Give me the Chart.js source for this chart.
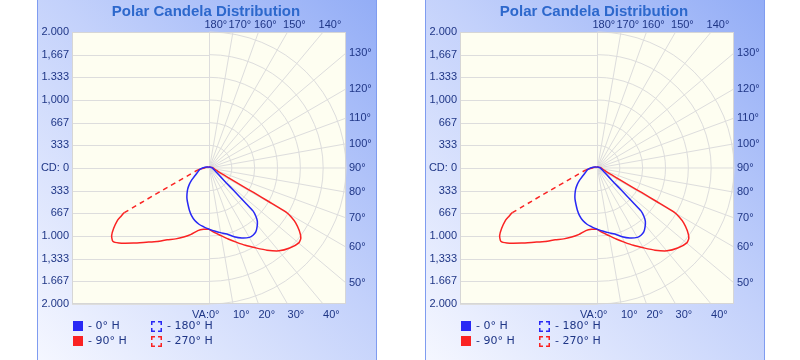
<!DOCTYPE html>
<html>
<head>
<meta charset="utf-8">
<script src="https://cdn.jsdelivr.net/npm/chart.js@4.4.0/dist/chart.umd.min.js"></script>
<style>
  body { margin: 0; width: 800px; height: 360px; overflow: hidden; background: #fff; }
  .painel {
    position: absolute; top: -1px; width: 338px; height: 362px;
    border: 1px solid #7f9cf0;
    background: linear-gradient(225deg, #93adf6 0%, #c3d1fb 45%, #f5f7ff 100%);
  }
  .painel canvas { position: absolute; left: 0; top: 1px; }
  .caixa { position: absolute; width: 10px; height: 10px; }
  .leg { position: absolute; font: 11px "DejaVu Sans", sans-serif; color: #1f3686; line-height: 13px; white-space: nowrap; }
</style>
</head>
<body>
<script>
// rotulos e grade
const titulo = 'Polar Candela Distribution';
const cdValores = [2000, 1666.7, 1333.3, 1000, 666.7, 333.3, 0, -333.3, -666.7, -1000, -1333.3, -1666.7, -2000];
const cdRotulos = ['2.000', '1,667', '1.333', '1,000', '667', '333', 'CD: 0', '333', '667', '1.000', '1,333', '1.667', '2.000'];
const raiosGrade = [333.3, 666.7, 1000, 1333.3, 1666.7, 2000];
const angulosGrade = [10, 20, 30, 40, 50, 60, 70, 80, 90, 100, 110, 120, 130, 140, 150, 160, 170];
const angulosTopo = [180, 170, 160, 150, 140];
const angulosDireita = [130, 120, 110, 100, 90, 80, 70, 60, 50];
const angulosBase = [0, 10, 20, 30, 40];

// 0° H (azul, lado direito)
const va0H = [0, 5, 10, 15, 20, 25, 30, 33, 36, 39, 42, 44, 45.5, 46, 46.5, 47.5, 49, 52, 58, 70, 80, 90, 100, 120, 150, 180];
const cd0H = [900, 930, 965, 1005, 1075, 1135, 1178, 1180, 1162, 1115, 1055, 985, 900, 760, 640, 480, 340, 230, 140, 80, 60, 50, 40, 25, 15, 10];

// 180° H (azul, lado esquerdo)
const va180H = [0, 5, 10, 15, 20, 25, 30, 35, 40, 45, 50, 55, 60, 70, 80, 90, 100, 120, 150, 180];
const cd180H = [900, 868, 840, 800, 745, 680, 615, 560, 500, 440, 375, 310, 245, 175, 140, 95, 60, 30, 15, 10];

// 90° H (vermelho, lado direito)
const va90H = [0, 5, 10, 15, 20, 25, 30, 35, 40, 45, 50, 52.5, 55, 57.5, 59, 60, 60.5, 61, 61.5, 63, 66, 75, 90, 100, 120, 150, 180];
const cd90H = [900, 955, 1010, 1080, 1160, 1255, 1355, 1475, 1590, 1665, 1712, 1690, 1610, 1500, 1400, 1300, 1000, 750, 550, 350, 180, 100, 60, 45, 25, 15, 10];

// 270° H (vermelho, lado esquerdo)
const va270H = [0, 5, 10, 15, 20, 25, 30, 35, 40, 45, 50, 52.5, 55, 57.5, 60, 61, 62, 80, 90, 100, 120, 150, 180];
const cd270H = [900, 905, 935, 1010, 1080, 1150, 1220, 1320, 1425, 1560, 1715, 1770, 1735, 1650, 1545, 1475, 1400, 165, 70, 50, 30, 15, 10];

const azul = 'rgb(40, 40, 245)';
const vermelho = 'rgb(250, 35, 35)';
const corTexto = '#1f3686';

// converte (angulo vertical, candela) para x/y; lado = 1 direita, -1 esquerda
function paraPontos(angulos, valores, lado) {
  return angulos.map((va, i) => {
    const rad = va * Math.PI / 180;
    return { x: lado * valores[i] * Math.sin(rad), y: -valores[i] * Math.cos(rad) };
  });
}

// trecho longo fica tracejado, trechos curtos parecem continuos
const tracoLongo = ctx => {
  const dist = Math.hypot(ctx.p1.x - ctx.p0.x, ctx.p1.y - ctx.p0.y);
  return dist > 30 ? [5, 4] : undefined;
};

// ponto onde a linha radial encontra a borda do grafico
function fimRadial(chart, va) {
  const a = chart.chartArea;
  const cx = chart.scales.x.getPixelForValue(0);
  const cy = chart.scales.y.getPixelForValue(0);
  const s = Math.sin(va * Math.PI / 180);
  const c = Math.cos(va * Math.PI / 180);
  let t = s > 0.0001 ? (a.right - cx) / s : Infinity;
  if (c > 0.0001) t = Math.min(t, (a.bottom - cy) / c);
  if (c < -0.0001) t = Math.min(t, (a.top - cy) / c);
  return { x: cx + t * s, y: cy + t * c };
}

// fundo e grade polar
const gradePolar = {
  id: 'gradePolar',
  beforeDatasetsDraw(chart) {
    const { ctx, chartArea: a, scales: { x, y } } = chart;
    const cx = Math.round(x.getPixelForValue(0)) + 0.5;
    const cy = y.getPixelForValue(0);
    ctx.save();
    ctx.fillStyle = '#fefef1';
    ctx.fillRect(a.left, a.top, a.width, a.height);
    ctx.strokeStyle = '#dddddd';
    ctx.lineWidth = 1;

    ctx.beginPath();
    cdValores.forEach(v => {
      const py = Math.round(y.getPixelForValue(v)) + 0.5;
      ctx.moveTo(a.left, py);
      ctx.lineTo(cx, py);
    });
    ctx.moveTo(cx, a.top);
    ctx.lineTo(cx, a.bottom);
    ctx.stroke();

    raiosGrade.forEach(r => {
      const rx = x.getPixelForValue(r) - cx;
      const ry = cy - y.getPixelForValue(r);
      ctx.beginPath();
      ctx.ellipse(cx, cy, rx, ry, 0, -Math.PI / 2, Math.PI / 2);
      ctx.stroke();
    });

    angulosGrade.forEach(va => {
      const p = fimRadial(chart, va);
      ctx.beginPath();
      ctx.moveTo(cx, cy);
      ctx.lineTo(p.x, p.y);
      ctx.stroke();
    });

    ctx.strokeStyle = '#d6d6d6';
    ctx.strokeRect(a.left + 0.5, a.top + 0.5, a.width - 1, a.height - 1);
    ctx.restore();
  }
};

// titulo e rotulos dos eixos
const rotulosPolar = {
  id: 'rotulosPolar',
  afterDraw(chart) {
    const { ctx, chartArea: a, scales: { x, y } } = chart;
    const cx = x.getPixelForValue(0);
    ctx.save();
    ctx.font = 'bold 15px "Liberation Sans", Arial, sans-serif';
    ctx.fillStyle = '#2d68cc';
    ctx.textAlign = 'center';
    ctx.textBaseline = 'middle';
    ctx.fillText(titulo, 168, 11);

    ctx.font = '11px "Liberation Sans", Arial, sans-serif';
    ctx.fillStyle = corTexto;
    ctx.textAlign = 'right';
    cdValores.forEach((v, i) => {
      ctx.fillText(cdRotulos[i], a.left - 3, y.getPixelForValue(v));
    });

    ctx.textAlign = 'left';
    angulosTopo.forEach(va => {
      const p = fimRadial(chart, va);
      ctx.fillText(va + '°', p.x - 4.5, a.top - 7);
    });
    angulosDireita.forEach(va => {
      const p = fimRadial(chart, va);
      ctx.fillText(va + '°', a.right + 3, p.y);
    });
    angulosBase.forEach(va => {
      const p = fimRadial(chart, va);
      ctx.fillText(va + '°', p.x, a.bottom + 11);
    });
    ctx.textAlign = 'right';
    ctx.fillText('VA:', cx, a.bottom + 11);
    ctx.restore();
  }
};

// caixinha tracejada da legenda (cantos em L)
function caixaTracejada(left, top, cor) {
  return '<svg class="caixa" style="left:' + left + 'px;top:' + top + 'px;width:11px;height:11px" viewBox="0 0 11 11">' +
    '<path d="M0.75 4V0.75H4 M7 0.75H10.25V4 M10.25 7V10.25H7 M4 10.25H0.75V7" fill="none" stroke="' + cor + '" stroke-width="1.5"/></svg>';
}

function renderPainel(left) {
  const painel = document.createElement('div');
  painel.className = 'painel';
  painel.style.left = left + 'px';
  painel.innerHTML =
    '<canvas width="338" height="360"></canvas>' +
    '<div class="caixa" style="left:35px;top:321px;background:' + azul + '"></div>' +
    '<div class="leg" style="left:50px;top:319px">- 0° H</div>' +
    '<div class="caixa" style="left:35px;top:336px;background:' + vermelho + '"></div>' +
    '<div class="leg" style="left:50px;top:334px">- 90° H</div>' +
    caixaTracejada(113, 321, azul) +
    '<div class="leg" style="left:129px;top:319px">- 180° H</div>' +
    caixaTracejada(113, 336, vermelho) +
    '<div class="leg" style="left:129px;top:334px">- 270° H</div>';
  document.body.appendChild(painel);

  const ctx = painel.querySelector('canvas').getContext('2d');
  new Chart(ctx, {
    type: 'scatter',
    data: {
      datasets: [
        { label: '0° H', data: paraPontos(va0H, cd0H, 1), borderColor: azul },
        { label: '180° H', data: paraPontos(va180H, cd180H, -1), borderColor: azul, segment: { borderDash: tracoLongo } },
        { label: '90° H', data: paraPontos(va90H, cd90H, 1), borderColor: vermelho },
        { label: '270° H', data: paraPontos(va270H, cd270H, -1), borderColor: vermelho, segment: { borderDash: tracoLongo } }
      ]
    },
    options: {
      responsive: false,
      animation: false,
      devicePixelRatio: 1,
      showLine: true,
      datasets: { scatter: { showLine: true, pointRadius: 0, borderWidth: 1.5, tension: 0.2, fill: false } },
      layout: { padding: { left: 34, top: 31, right: 30, bottom: 57 } },
      scales: {
        x: { type: 'linear', display: false, min: -2000, max: 2000 },
        y: { type: 'linear', display: false, min: -2000, max: 2000 }
      },
      plugins: { legend: { display: false }, tooltip: { enabled: false } }
    },
    plugins: [gradePolar, rotulosPolar]
  });
}

renderPainel(37);
renderPainel(425);
</script>
</body>
</html>
